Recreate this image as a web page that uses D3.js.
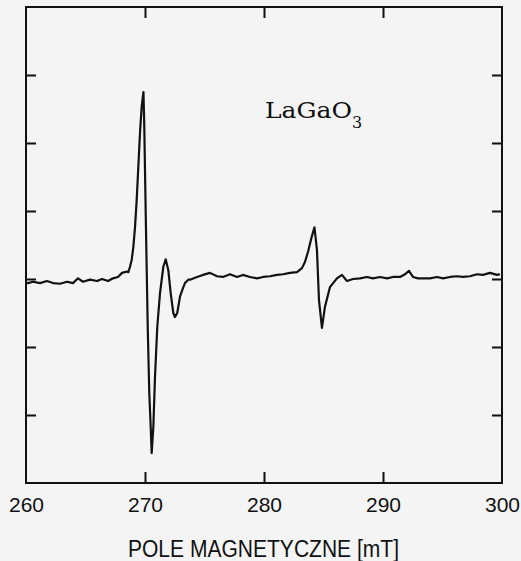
<!DOCTYPE html>
<html>
<head>
<meta charset="utf-8">
<script src="https://cdn.jsdelivr.net/npm/d3@7"></script>
<style>
  html, body { margin: 0; padding: 0; background: #f3f4f3; }
  svg { display: block; }
</style>
</head>
<body>
<div id="chart"></div>
<script>
// EPR spectrum of LaGaO3, field in mT, signal in arbitrary units
const field = [
  260.00, 260.17, 260.59, 261.18, 261.76, 262.27, 262.86, 263.45, 263.95, 264.37,
  264.79, 265.38, 265.97, 266.39, 266.89, 267.31, 267.73, 268.07, 268.49, 268.60,
  268.74, 268.88, 269.02, 269.16, 269.30, 269.44, 269.58, 269.72, 269.87, 269.94,
  270.08, 270.23, 270.36, 270.48, 270.56, 270.70, 270.84, 271.03, 271.26, 271.54,
  271.74, 271.96, 272.16, 272.38, 272.52, 272.71, 272.94, 273.22, 273.36, 273.64,
  273.78, 274.37, 274.87, 275.46, 276.05, 276.55, 277.14, 277.73, 278.23, 278.82,
  279.41, 279.92, 280.50, 281.09, 281.60, 282.18, 282.77, 283.19, 283.44, 283.70,
  284.01, 284.24, 284.45, 284.62, 284.87, 285.12, 285.54, 286.13, 286.55, 286.97,
  287.48, 288.07, 288.65, 289.16, 289.75, 290.34, 290.84, 291.43, 291.85, 292.18,
  292.52, 292.94, 293.53, 293.95, 294.54, 295.04, 295.63, 296.22, 296.72, 297.31,
  297.90, 298.40, 298.99, 299.58, 299.83
];
const signal = [
  -0.06, -0.06, -0.04, -0.06, -0.03, -0.06, -0.07, -0.04, -0.06, 0.01,
  -0.04, -0.01, -0.03, 0.00, -0.03, 0.01, 0.03, 0.09, 0.11, 0.10,
  0.18, 0.28, 0.47, 0.76, 1.16, 1.65, 2.15, 2.53, 2.75, 2.24,
  0.76, -0.71, -1.68, -2.18, -2.56, -2.18, -1.44, -0.71, -0.21, 0.18,
  0.29, 0.13, -0.21, -0.50, -0.56, -0.50, -0.26, -0.12, -0.06, -0.01,
  -0.01, 0.03, 0.06, 0.09, 0.04, 0.03, 0.07, 0.03, 0.06, 0.03,
  0.01, 0.03, 0.04, 0.06, 0.07, 0.09, 0.10, 0.16, 0.25, 0.40,
  0.62, 0.76, 0.43, -0.31, -0.72, -0.41, -0.12, 0.01, 0.06, -0.03,
  0.00, 0.01, 0.03, 0.01, 0.03, 0.01, 0.03, 0.03, 0.07, 0.12,
  0.03, 0.01, 0.01, 0.01, 0.03, 0.01, 0.03, 0.04, 0.03, 0.04,
  0.07, 0.06, 0.09, 0.06, 0.07
];
const xTickValues = [260, 270, 280, 290, 300];
const xTopTicks = [270, 280, 290];
const yTickValues = [-2, -1, 0, 1, 2, 3];
const xTitle = "POLE MAGNETYCZNE [mT]";
const sample = "LaGaO";
const sampleSub = "3";

const width = 521, height = 561;
const margin = { top: 7, right: 19, bottom: 78, left: 26 };
const innerW = width - margin.left - margin.right;
const innerH = height - margin.top - margin.bottom;

const svg = d3.select("#chart").append("svg")
  .attr("width", width)
  .attr("height", height);

svg.append("rect")
  .attr("width", width)
  .attr("height", height)
  .attr("fill", "#f3f4f3");

const g = svg.append("g")
  .attr("transform", `translate(${margin.left},${margin.top})`);

const x = d3.scaleLinear().domain([260, 300]).range([0, innerW]);
const y = d3.scaleLinear().domain([-3, 4]).range([innerH, 0]);

const data = field.map((f, i) => ({ f, s: signal[i] }));

// axes with inward ticks
const styleAxis = sel => {
  sel.select(".domain").remove();
  sel.selectAll(".tick line").attr("stroke", "#111").attr("stroke-width", 2);
};

g.append("g")
  .attr("transform", `translate(0,${innerH})`)
  .call(d3.axisBottom(x).tickValues(xTickValues).tickSize(-11).tickPadding(14)
    .tickFormat(d3.format("d")))
  .call(styleAxis)
  .call(sel => {
    sel.selectAll(".tick line").filter(d => d === 260 || d === 300).remove();
    sel.selectAll(".tick text")
      .attr("font-family", "'Liberation Sans', Arial, sans-serif")
      .attr("font-size", 21)
      .attr("fill", "#111");
  });

g.append("g")
  .call(d3.axisTop(x).tickValues(xTopTicks).tickSize(-11).tickFormat(""))
  .call(styleAxis);

g.append("g")
  .call(d3.axisLeft(y).tickValues(yTickValues).tickSize(-10).tickFormat(""))
  .call(styleAxis);

g.append("g")
  .attr("transform", `translate(${innerW},0)`)
  .call(d3.axisRight(y).tickValues(yTickValues).tickSize(-10).tickFormat(""))
  .call(styleAxis);

// frame
g.append("rect")
  .attr("width", innerW)
  .attr("height", innerH)
  .attr("fill", "none")
  .attr("stroke", "#111")
  .attr("stroke-width", 2);

// spectrum
const line = d3.line()
  .x(d => x(d.f))
  .y(d => y(d.s));

g.append("path")
  .datum(data)
  .attr("fill", "none")
  .attr("stroke", "#111")
  .attr("stroke-width", 2.2)
  .attr("stroke-linejoin", "round")
  .attr("d", line);

// sample label
const lbl = svg.append("text")
  .attr("font-family", "'DejaVu Serif', serif")
  .attr("fill", "#111");
lbl.append("tspan")
  .attr("x", 265)
  .attr("y", 118)
  .attr("font-size", 23)
  .attr("textLength", 87)
  .attr("lengthAdjust", "spacingAndGlyphs")
  .text(sample);
lbl.append("tspan")
  .attr("x", 352)
  .attr("y", 128)
  .attr("font-size", 16)
  .text(sampleSub);

// axis title
svg.append("text")
  .attr("x", 128)
  .attr("y", 557)
  .attr("font-family", "'Liberation Sans', Arial, sans-serif")
  .attr("font-size", 23)
  .attr("textLength", 271)
  .attr("lengthAdjust", "spacingAndGlyphs")
  .attr("fill", "#111")
  .text(xTitle);
</script>
</body>
</html>
